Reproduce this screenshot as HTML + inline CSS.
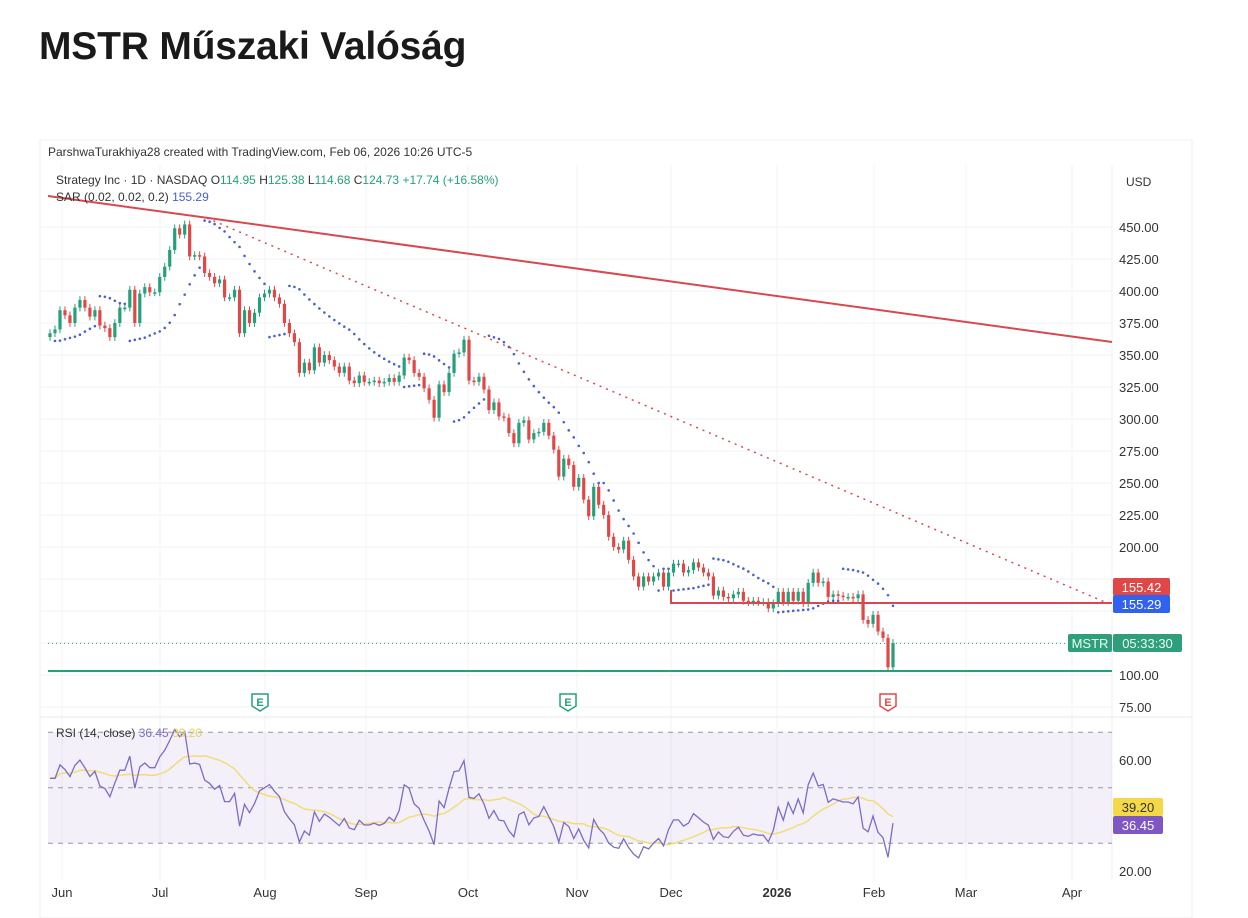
<!DOCTYPE html>
<html><head><meta charset="utf-8"><style>
body{margin:0;background:#fff;width:1248px;height:918px;overflow:hidden;font-family:"Liberation Sans",sans-serif}
#title{position:absolute;left:39px;top:25px;font-size:39px;font-weight:bold;color:#1a1a1a;letter-spacing:-0.2px}
svg{position:absolute;left:0;top:0}
text{font-family:"Liberation Sans",sans-serif}
</style></head><body>
<div id="title">MSTR Műszaki Valóság</div>
<svg id="c" width="1248" height="918"></svg>
<script>
const closes=[367,370,385,381,375,387,393,387,380,385,373,371,364,375,387,387,401,375,398,403,399,399,411,419,432,449,444,452,427,428,427,414,411,406,409,395,395,401,367,385,375,383,395,398,401,395,390,375,367,360,336,344,338,356,344,350,346,341,336,341,330,328,334,329,329,330,328,329,332,329,334,348,346,336,333,324,315,301,327,321,336,351,352,362,330,329,
333,323,307,313,302,301,289,281,297,299,284,289,290,297,287,276,255,269,264,247,254,237,224,247,233,225,208,200,198,205,190,177,169,177,173,177,180,169,
180,187,187,180,182,188,184,180,177,162,166,161,160,163,165,158,157,158,157,157,152,156,165,157,165,158,165,156,172,180,172,173,161,163,162,161,161,160,163,143,140,147,134,129,106,125];
const priceTicks=[75,100,125,150,175,200,225,250,275,300,325,350,375,400,425,450];
const rsiTicks=[20,60];
const months=["Jun","Jul","Aug","Sep","Oct","Nov","Dec","2026","Feb","Mar","Apr"];
const monthX=[62,160,265,366,468,577,671,777,874,966,1072];

const S=document.getElementById('c');const NS='http://www.w3.org/2000/svg';
function el(t,a,p){const e=document.createElementNS(NS,t);for(const k in a)e.setAttribute(k,a[k]);(p||S).appendChild(e);return e;}
const py=p=>675-(p-100)*1.28;
const ry=r=>871-(r-20)*2.775;
const n=closes.length;const step=(893-50)/(n-1);const cx=i=>50+i*step;

let g=el('rect',{x:40,y:140,width:1152,height:778,fill:'#fff',stroke:'#eef0f3'});

let t=el('text',{x:48,y:156,'font-size':12,fill:'#333'});t.textContent='ParshwaTurakhiya28 created with TradingView.com, Feb 06, 2026 10:26 UTC-5';

monthX.forEach(x=>{let l=el('line',{x1:x,x2:x,y1:165,y2:880,stroke:'#f2f3f5'});});
priceTicks.forEach(p=>{let l=el('line',{x1:40,x2:1112,y1:py(p),y2:py(p),stroke:'#f2f3f5'});});
el('line',{x1:40,x2:1192,y1:717,y2:717,stroke:'#e6e8ec'});
el('line',{x1:1112,x2:1112,y1:165,y2:880,stroke:'#eef0f3'});

let b=el('rect',{x:48,y:ry(70),width:1064,height:ry(30)-ry(70),fill:'#7e57c2','fill-opacity':0.09});

[70,50,30].forEach(v=>{let l=el('line',{x1:48,x2:1112,y1:ry(v),y2:ry(v),stroke:'#9598a1','stroke-dasharray':'5,5'});});

const opens=closes.map((c,i)=>i?closes[i-1]:364);
const highs=closes.map((c,i)=>Math.max(c,opens[i])+3);
const lows=closes.map((c,i)=>Math.min(c,opens[i])-3);
for(let i=0;i<n;i++){
 const up=closes[i]>=opens[i];const col=up?'#26a07a':'#e04848';const x=cx(i);
 const w=el('line',{x1:x,x2:x,y1:py(highs[i]),y2:py(lows[i]),stroke:col,'stroke-width':1});
 
 const top=py(Math.max(opens[i],closes[i]));const h=Math.max(1.5,Math.abs(py(opens[i])-py(closes[i])));
 const r=el('rect',{x:x-1.6,y:top,width:3.2,height:h,fill:col});
 
}
{let af=0.02,upT=false,ep=lows[0],sar=highs[0];
for(let i=1;i<n;i++){
 sar=sar+af*(ep-sar);
 if(upT){sar=Math.min(sar,lows[i-1]);if(lows[i]<sar){upT=false;sar=ep;ep=lows[i];af=0.02;}else if(highs[i]>ep){ep=highs[i];af=Math.min(0.2,af+0.02);}}
 else{sar=Math.max(sar,highs[i-1]);if(highs[i]>sar){upT=true;sar=ep;ep=highs[i];af=0.02;}else if(lows[i]<ep){ep=lows[i];af=Math.min(0.2,af+0.02);}}
 const d=el('circle',{cx:cx(i),cy:py(sar),r:1.3,fill:'#4a5fd1'});
 
}}
let l1=el('line',{x1:48,y1:196,x2:1112,y2:342,stroke:'#d9474f','stroke-width':2});
let l2=el('line',{x1:207,y1:218,x2:1107,y2:603,stroke:'#d9474f','stroke-width':1.5,'stroke-dasharray':'2,5'});
let l3=el('polyline',{points:'671,590 671,603 1112,603',fill:'none',stroke:'#d9474f','stroke-width':2});
let l4=el('line',{x1:48,y1:671,x2:1112,y2:671,stroke:'#26a07a','stroke-width':2});
let l5=el('line',{x1:48,y1:py(124.73),x2:1112,y2:py(124.73),stroke:'#26a07a','stroke-width':1,'stroke-dasharray':'1,3'});

[[260,'#26a07a'],[568,'#26a07a'],[888,'#e04848']].forEach(([x,c])=>{
 const m=el('path',{d:`M${x-8},${694} h16 v12 l-8,5 l-8,-5 z`,fill:'#fff',stroke:c,'stroke-width':1.5});
 
 const tt=el('text',{x:x,y:706,'font-size':11,fill:c,'text-anchor':'middle','font-weight':'bold'});tt.textContent='E';
});

// RSI (Wilder 14) seeded with neutral averages
const rsi=new Array(n).fill(null);
{let ag=5.5,al=5;
for(let i=1;i<n;i++){const d=closes[i]-closes[i-1];
 ag=(ag*13+Math.max(d,0))/14;al=(al*13+Math.max(-d,0))/14;
 rsi[i]=100-100/(1+ag/(al||1e-9));}
rsi[0]=rsi[1];}
const ma=rsi.map((v,i)=>{const s0=Math.max(0,i-13);let s=0;for(let k=s0;k<=i;k++)s+=rsi[k];return s/(i-s0+1);});
const pts=a=>a.map((v,i)=>v==null?null:cx(i).toFixed(1)+','+ry(Math.max(15,Math.min(78,v))).toFixed(1)).filter(Boolean).join(' ');
let mal=el('polyline',{points:pts(ma),fill:'none',stroke:'#f2dc7a','stroke-width':1.5});
let rl=el('polyline',{points:pts(rsi),fill:'none',stroke:'#7e6bc4','stroke-width':1.3});

priceTicks.forEach(p=>{if(p===150||p===175)return;const tx=el('text',{x:1119,y:py(p)+5,'font-size':13,fill:'#333'});tx.textContent=p.toFixed(2);});
rsiTicks.forEach(v=>{const tx=el('text',{x:1119,y:ry(v)+5,'font-size':13,fill:'#333'});tx.textContent=v.toFixed(2);});
months.forEach((m,i)=>{const tx=el('text',{x:monthX[i],y:897,'font-size':13,fill:'#333','text-anchor':'middle','font-weight':m==='2026'?'bold':'normal'});tx.textContent=m;});
let usd=el('text',{x:1126,y:186,'font-size':12,fill:'#333'});usd.textContent='USD';

function tag(x,y,w,bg,txt,fg,name){const r=el('rect',{x:x,y:y-9,width:w,height:18,rx:2,fill:bg});const tx=el('text',{x:x+w/2,y:y+5,'font-size':13,fill:fg,'text-anchor':'middle'});tx.textContent=txt;}
tag(1113,587,57,'#e04848','155.42','#fff','tag-155-42');
tag(1113,604,57,'#2f62f0','155.29','#fff','tag-sar-155-29');
tag(1068,643,44,'#2f9e7a','MSTR','#e8fff5','tag-mstr');
tag(1113,643,69,'#2f9e7a','05:33:30','#e8fff5','tag-countdown');
tag(1113,807,50,'#f5d84a','39.20','#333','tag-rsi-ma');
tag(1113,825,50,'#7e57c2','36.45','#fff','tag-rsi');

let lg=el('text',{x:56,y:184,'font-size':12,fill:'#333'});
lg.innerHTML='Strategy Inc · 1D · NASDAQ  O<tspan fill="#26a07a">114.95</tspan>  H<tspan fill="#26a07a">125.38</tspan>  L<tspan fill="#26a07a">114.68</tspan>  C<tspan fill="#26a07a">124.73</tspan>  <tspan fill="#26a07a">+17.74 (+16.58%)</tspan>';
let sl=el('text',{x:56,y:201,'font-size':12,fill:'#333'});
sl.innerHTML='SAR (0.02, 0.02, 0.2)  <tspan fill="#4a5fd1">155.29</tspan>';
let rlg=el('text',{x:56,y:737,'font-size':12,fill:'#333'});
rlg.innerHTML='RSI (14, close)  <tspan fill="#7e6bc4">36.45</tspan>  <tspan fill="#e8cf5a">39.20</tspan>';
</script>
</body></html>
